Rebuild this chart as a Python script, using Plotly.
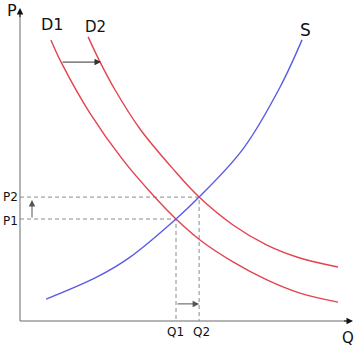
import plotly.graph_objects as go

# Demand curve D1 (quantity, price)
d1_q = [1.03, 1.37, 2.33, 3.43, 4.43, 5.20, 6.00, 7.10, 8.23, 9.33, 10.60]
d1_p = [9.37, 8.63, 6.93, 5.37, 4.20, 3.40, 2.70, 1.97, 1.37, 0.93, 0.63]
# Demand curve D2
d2_q = [2.27, 2.67, 3.17, 4.00, 5.10, 5.97, 7.10, 8.23, 9.33, 10.60]
d2_p = [9.47, 8.63, 7.70, 6.40, 5.07, 4.13, 3.20, 2.53, 2.10, 1.80]
# Supply curve S
s_q = [0.87, 2.57, 3.67, 5.20, 5.97, 7.43, 8.67, 9.40]
s_p = [0.73, 1.47, 2.13, 3.40, 4.13, 5.73, 7.80, 9.37]
# Equilibria
eq_q = [5.20, 5.97]
eq_p = [3.40, 4.13]
q_labels = ["Q1", "Q2"]
p_labels = ["P1", "P2"]
# Axis extents
q_max = 11.1
p_max = 10.43

RED = "#e4424e"
BLUE = "#5b5be8"
GRAY = "#8a8a8a"
FONT = "DejaVu Sans"

fig = go.Figure()

# axis lines
fig.add_trace(go.Scatter(x=[0, 0, q_max - 0.2], y=[p_max - 0.2, 0, 0], mode="lines",
                         line=dict(color="#6a6a6a", width=1), hoverinfo="skip"))

# dashed guide lines
for q, p in zip(eq_q, eq_p):
    fig.add_trace(go.Scatter(x=[0, q, q], y=[p, p, 0], mode="lines",
                             line=dict(color=GRAY, width=1, dash="4px,3px"), hoverinfo="skip"))

# curves
fig.add_trace(go.Scatter(x=d1_q, y=d1_p, mode="lines", line=dict(color=RED, width=1.4, shape="spline", smoothing=1.0), hoverinfo="skip"))
fig.add_trace(go.Scatter(x=d2_q, y=d2_p, mode="lines", line=dict(color=RED, width=1.4, shape="spline", smoothing=1.0), hoverinfo="skip"))
fig.add_trace(go.Scatter(x=s_q, y=s_p, mode="lines", line=dict(color=BLUE, width=1.4, shape="spline", smoothing=1.0), hoverinfo="skip"))

annotations = []

def arrow(x, y, ax, ay, color="#111", width=1):
    annotations.append(dict(x=x, y=y, ax=ax, ay=ay, xref="x", yref="y", axref="x", ayref="y",
                            text="", showarrow=True, arrowhead=2, arrowsize=1.3,
                            arrowwidth=width, arrowcolor=color))

# axis arrowheads
arrow(0, p_max, 0, p_max - 0.35)
arrow(q_max, 0, q_max - 0.35, 0)
# shift arrows
arrow(2.70, 8.63, 1.37, 8.63, color="#333")
arrow(0.4, 4.03, 0.4, 3.40, color="#555")
arrow(5.97, 0.57, 5.20, 0.57, color="#555")

def label(x, y, text, size):
    annotations.append(dict(x=x, y=y, xref="x", yref="y", text=text, showarrow=False,
                            font=dict(family=FONT, size=size, color="#111"),
                            xanchor="center", yanchor="middle"))

label(-0.27, 10.35, "P", 16)
label(10.93, -0.57, "Q", 15)
label(1.07, 9.9, "D1", 16)
label(2.5, 9.8, "D2", 15)
label(9.5, 9.7, "S", 17)
label(-0.33, eq_p[1], p_labels[1], 12)
label(-0.33, eq_p[0] - 0.07, p_labels[0], 12)
label(eq_q[0] - 0.02, -0.37, q_labels[0], 12)
label(eq_q[1] + 0.08, -0.37, q_labels[1], 12)

fig.update_layout(
    width=360, height=348,
    margin=dict(l=0, r=0, t=0, b=0),
    paper_bgcolor="white", plot_bgcolor="white",
    showlegend=False,
    xaxis=dict(range=[-0.667, 11.333], visible=False, fixedrange=True),
    yaxis=dict(range=[-0.9, 10.7], visible=False, fixedrange=True),
    annotations=annotations,
)

fig.write_html("out.html", config={"displayModeBar": False})
